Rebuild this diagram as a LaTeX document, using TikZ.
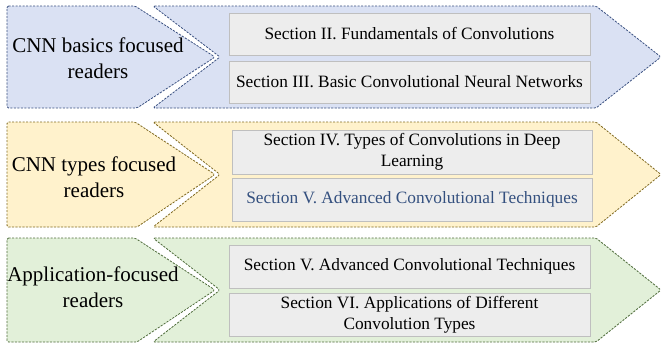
\documentclass[tikz,border=0pt]{standalone}
\usepackage{fontspec}
\setmainfont{Liberation Serif}
\definecolor{bfill}{HTML}{DAE1F3}
\definecolor{bline}{HTML}{3A5080}
\definecolor{yfill}{HTML}{FFF2CC}
\definecolor{yline}{HTML}{806A20}
\definecolor{gfill}{HTML}{E2F0D9}
\definecolor{gline}{HTML}{4E6B3A}
\definecolor{boxfill}{HTML}{EDEDED}
\definecolor{boxline}{HTML}{BFBFBF}
\definecolor{bluetext}{HTML}{34507F}
\tikzset{
  dashline/.style={line width=0.8pt, dash pattern=on 2.2pt off 1.3pt, rounded corners=1.5pt},
  readertext/.style={align=center, font=\fontsize{21}{25.5}\selectfont, inner sep=0pt},
  secbox/.style={draw=boxline, fill=boxfill, line width=0.8pt, inner sep=0pt, align=center,
    font=\fontsize{17.3}{21}\selectfont},
}
\begin{document}
\begin{tikzpicture}[x=1pt,y=-1pt]
\useasboundingbox (0,0) rectangle (662,343);
% ---------- row 1 ----------
\draw[dashline, draw=bline, fill=bfill] (7,6) -- (135,6) -- (215,57) -- (137,108) -- (7,108) -- cycle;
\draw[dashline, draw=bline, fill=bfill] (153,6) -- (596,6) -- (661,57) -- (596,108) -- (153,108) -- (220,57) -- cycle;
\node[readertext] (r1) at (98,58) {CNN basics focused\\readers};
\node[secbox, minimum width=361pt, minimum height=42pt] (s2) at (409.5,34) {Section II. Fundamentals of Convolutions};
\node[secbox, minimum width=361pt, minimum height=42pt] (s3) at (409.5,82) {Section III. Basic Convolutional Neural Networks};
% ---------- row 2 ----------
\draw[dashline, draw=yline, fill=yfill] (7,122) -- (135,122) -- (215,174.5) -- (137,227) -- (7,227) -- cycle;
\draw[dashline, draw=yline, fill=yfill] (153,122) -- (596,122) -- (661,174.5) -- (596,227) -- (153,227) -- (220,174.5) -- cycle;
\node[readertext] (r2) at (94,177) {CNN types focused\\readers};
\node[secbox, minimum width=360pt, minimum height=44pt] (s4) at (412,152) {Section IV. Types of Convolutions in Deep\\Learning};
\node[secbox, minimum width=360pt, minimum height=43pt, text=bluetext] (s5a) at (412,199.5) {Section V. Advanced Convolutional Techniques};
% ---------- row 3 ----------
\draw[dashline, draw=gline, fill=gfill] (7,238) -- (135,238) -- (215,290) -- (137,342) -- (7,342) -- cycle;
\draw[dashline, draw=gline, fill=gfill] (153,238) -- (596,238) -- (661,290) -- (596,342) -- (153,342) -- (220,290) -- cycle;
\node[readertext] (r3) at (93,287) {Application-focused\\readers};
\node[secbox, minimum width=361pt, minimum height=43pt] (s5b) at (409.5,266.5) {Section V. Advanced Convolutional Techniques};
\node[secbox, minimum width=361pt, minimum height=43pt] (s6) at (409.5,314.5) {Section VI. Applications of Different\\Convolution Types};
\end{tikzpicture}
\end{document}
